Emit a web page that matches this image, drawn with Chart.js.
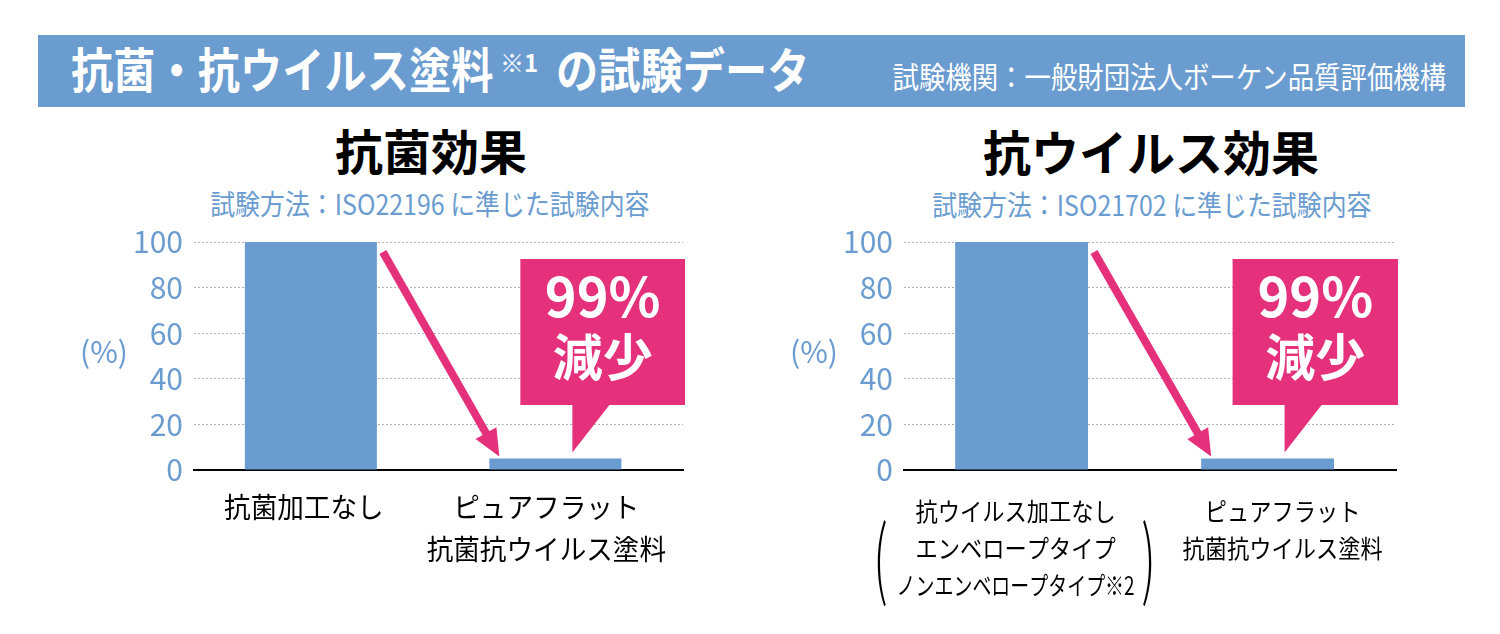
<!DOCTYPE html>
<html lang="ja">
<head>
<meta charset="utf-8">
<script src="https://cdn.jsdelivr.net/npm/chart.js@4.4.0/dist/chart.umd.min.js"></script>
<style>
  html, body { margin: 0; padding: 0; background: #fff; }
  body { width: 1500px; height: 634px; position: relative; overflow: hidden; font-family: "Noto Sans CJK JP", sans-serif; }
  .band { position: absolute; left: 38px; top: 35px; width: 1427px; height: 72px; background: #6a9cd0; }
  .txt { position: absolute; line-height: 1; white-space: nowrap; }
  .head { color: #fff; font-weight: bold; font-size: 48px; transform: scaleX(0.88); transform-origin: left center; }
  .sup { color: #fff; font-weight: bold; font-size: 24px; }
  .org { color: #fff; font-size: 30px; right: 54px; top: 60px; transform: scaleX(0.88); transform-origin: right center; }
  .ttl { width: 800px; text-align: center; font-weight: bold; font-size: 48px; color: #000; }
  .sub { width: 800px; text-align: center; font-size: 28px; color: #6a9cd0; }
  .sub span { display: inline-block; transform: scaleX(0.89); }
  canvas { position: absolute; top: 0; }
</style>
</head>
<body>
<div class="band"></div>
<div class="txt head" style="left:71px; top:43px;">抗菌・抗ウイルス塗料</div>
<div class="txt sup" style="left:500px; top:50px;">※1</div>
<div class="txt head" style="left:556px; top:43px;">の試験データ</div>
<div class="txt org">試験機関：一般財団法人ボーケン品質評価機構</div>

<div class="txt ttl" style="left:31px; top:125px;">抗菌効果</div>
<div class="txt sub" style="left:30px; top:189px;"><span>試験方法：ISO22196 に準じた試験内容</span></div>
<div class="txt ttl" style="left:751px; top:126px;">抗ウイルス効果</div>
<div class="txt sub" style="left:752px; top:190px;"><span>試験方法：ISO21702 に準じた試験内容</span></div>

<canvas id="bacteria" width="750" height="634" style="left:0px;"></canvas>
<canvas id="virus" width="750" height="634" style="left:710px;"></canvas>

<script>
// data
const yTicks = [0, 20, 40, 60, 80, 100];
const bacteriaCategories = [['抗菌加工なし'], ['ピュアフラット', '抗菌抗ウイルス塗料']];
const bacteriaValues = [100, 5];
const virusCategories = [['抗ウイルス加工なし', 'エンベロープタイプ', 'ノンエンベロープタイプ※2'], ['ピュアフラット', '抗菌抗ウイルス塗料']];
const virusValues = [100, 5];
const reductionLabel = ['99%', '減少'];
const unitLabel = '(%)';

const FONT = '"Noto Sans CJK JP", sans-serif';
const BLUE = '#6a9cd0';
const PINK = '#e5307c';

// arrow, callout, category labels and unit label
const annotate = {
  id: 'annotate',
  afterDatasetsDraw(chart) {
    const { ctx, chartArea: area, scales: { y } } = chart;
    const bars = chart.getDatasetMeta(0).data;
    const hi = bars[0], lo = bars[1];
    ctx.save();

    // arrow from the tall bar down to the short one
    const x1 = hi.x + hi.width / 2 + 6, y1 = y.getPixelForValue(100) + 10;
    const x2 = lo.x - lo.width / 2 + 10, y2 = lo.y - 2;
    const ang = Math.atan2(y2 - y1, x2 - x1);
    const head = 27, half = 12;
    const bx = x2 - head * Math.cos(ang), by = y2 - head * Math.sin(ang);
    ctx.strokeStyle = PINK;
    ctx.fillStyle = PINK;
    ctx.lineWidth = 8;
    ctx.beginPath();
    ctx.moveTo(x1, y1);
    ctx.lineTo(bx + 2 * Math.cos(ang), by + 2 * Math.sin(ang));
    ctx.stroke();
    ctx.beginPath();
    ctx.moveTo(x2, y2);
    ctx.lineTo(bx + half * Math.sin(ang), by - half * Math.cos(ang));
    ctx.lineTo(bx - half * Math.sin(ang), by + half * Math.cos(ang));
    ctx.closePath();
    ctx.fill();

    // speech-bubble callout
    const L = lo.x - 35, R = area.right + 2;
    const T = y.getPixelForValue(92.5), B = y.getPixelForValue(28.5);
    ctx.beginPath();
    ctx.moveTo(L, T);
    ctx.lineTo(R, T);
    ctx.lineTo(R, B);
    ctx.lineTo(lo.x + 54, B);
    ctx.lineTo(lo.x + 17, lo.y - 6);
    ctx.lineTo(lo.x + 17, B);
    ctx.lineTo(L, B);
    ctx.closePath();
    ctx.fill();

    const cx = (L + R) / 2;
    ctx.fillStyle = '#fff';
    ctx.textAlign = 'center';
    ctx.textBaseline = 'alphabetic';
    ctx.font = 'bold 54px ' + FONT;
    ctx.fillText(reductionLabel[0], cx, T + 38 + 20);
    ctx.font = 'bold 50px ' + FONT;
    ctx.fillText(reductionLabel[1], cx, T + 98 + 19);
    ctx.restore();
  },
  afterDraw(chart, args, opts) {
    const { ctx, chartArea: area, scales: { x } } = chart;
    const cats = chart.data.labels;
    ctx.save();
    ctx.fillStyle = '#000';
    ctx.textAlign = 'center';
    ctx.textBaseline = 'alphabetic';
    ctx.font = opts.size + 'px ' + FONT;
    cats.forEach((lines, i) => {
      const cx = x.getPixelForValue(i) + opts.shift[i];
      lines.forEach((line, k) => {
        const cy = area.bottom + opts.first + k * opts.gap;
        const w = Math.min(ctx.measureText(line).width * opts.squeeze, opts.maxWidth);
        ctx.fillText(line, cx, cy + 0.38 * opts.size, w);
      });
      if (opts.bracket && opts.bracket.index === i) {
        const last = lines[lines.length - 1];
        const w = Math.min(ctx.measureText(last).width * opts.squeeze, opts.maxWidth);
        const midY = area.bottom + opts.first + 1.5 * opts.gap;
        ctx.save();
        ctx.font = '300 86px ' + FONT;
        ctx.fillText('(', cx - w / 2 - 16, midY + 23, 14);
        ctx.fillText(')', cx + w / 2 + 14, midY + 23, 14);
        ctx.restore();
      }
    });
    // unit label left of the axis
    ctx.fillStyle = BLUE;
    ctx.font = '30px ' + FONT;
    ctx.fillText(unitLabel, area.left - 90, (area.top + area.bottom) / 2 + 7);
    ctx.restore();
  }
};

function makeChart(id, categories, values, padRight, labelStyle) {
  return new Chart(document.getElementById(id), {
    type: 'bar',
    data: {
      labels: categories,
      datasets: [{
        data: values,
        backgroundColor: BLUE,
        borderWidth: 0,
        barPercentage: 0.54,
        categoryPercentage: 1
      }]
    },
    options: {
      responsive: false,
      animation: false,
      layout: { padding: { top: 242, right: padRight, left: 0, bottom: 0 } },
      plugins: {
        legend: { display: false },
        title: { display: false },
        tooltip: { enabled: false },
        annotate: labelStyle
      },
      scales: {
        x: {
          grid: { color: 'rgba(0,0,0,0)', drawTicks: false },
          border: { display: true, color: '#000', width: 2 },
          ticks: { display: false },
          // the original bars sit a little left of the category centres
          afterDataLimits: s => { s.min = 0.022; },
          afterFit: s => { s.height = 164; }
        },
        y: {
          min: 0,
          max: 100,
          afterBuildTicks: s => { s.ticks = yTicks.map(v => ({ value: v })); },
          grid: {
            drawTicks: false,
            lineWidth: 1,
            color: c => (c.tick && c.tick.value === 0) ? 'rgba(0,0,0,0)' : '#b3b3b3'
          },
          border: { display: false, dash: [2, 2] },
          ticks: { color: BLUE, padding: 11, font: { family: FONT, size: 30 } },
          afterFit: s => { s.width = 194; }
        }
      }
    },
    plugins: [annotate]
  });
}

makeChart('bacteria', bacteriaCategories, bacteriaValues, 67,
  { size: 28, squeeze: 0.95, first: 37, gap: 42, maxWidth: 300, shift: [-7, -9] });
makeChart('virus', virusCategories, virusValues, 64,
  { size: 25, squeeze: 0.89, first: 41, gap: 37, maxWidth: 238, shift: [-6, 15], bracket: { index: 0 } });
</script>
</body>
</html>
